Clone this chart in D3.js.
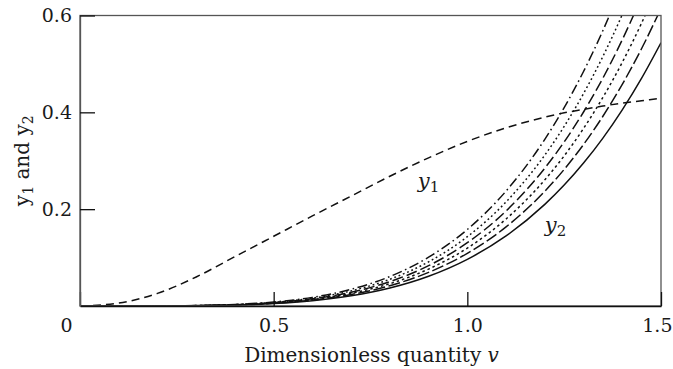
<!DOCTYPE html>
<html><head><meta charset="utf-8">
<script src="https://cdn.jsdelivr.net/npm/d3@7"></script>
<style>body{margin:0;background:#fff}svg{display:block}text{font-family:"DejaVu Serif",serif;fill:#1a1a1a}</style>
</head><body><svg id="c" width="673" height="369"></svg>
<script>
// ---- data ----
const vGrid = [0,0.1,0.2,0.3,0.4,0.5,0.6,0.7,0.8,0.9,1.0,1.1,1.2,1.25,1.3,1.35,1.4,1.45,1.5];
const y1Vals = [0,0.006,0.026,0.060,0.102,0.144,0.186,0.227,0.268,0.306,0.340,0.368,0.390,0.399,0.406,0.413,0.419,0.424,0.429];
const y2a = [0,0,0.0002,0.0009,0.0032,0.0082,0.0178,0.0345,0.0609,0.1008,0.158,0.2374,0.3442,0.4097,0.4844,0.569,0.6648,0.772,0.892];
const y2b = [0,0,0.0001,0.0008,0.0029,0.0074,0.0162,0.0312,0.0552,0.0913,0.1431,0.215,0.3117,0.371,0.4387,0.5154,0.602,0.6994,0.8082];
const y2c = [0,0,0.0001,0.0008,0.0026,0.0068,0.0148,0.0285,0.0504,0.0833,0.1307,0.1963,0.2847,0.3389,0.4007,0.4707,0.5499,0.6388,0.7382];
const y2d = [0,0,0.0001,0.0007,0.0024,0.0062,0.0135,0.0261,0.0461,0.0763,0.1196,0.1797,0.2605,0.3101,0.3667,0.4308,0.5032,0.5846,0.6755];
const y2e = [0,0,0.0001,0.0006,0.0022,0.0056,0.0123,0.0237,0.042,0.0694,0.1088,0.1634,0.237,0.2821,0.3336,0.3919,0.4578,0.5318,0.6145];
const y2f = [0,0,0.0001,0.0006,0.0019,0.005,0.0109,0.021,0.0371,0.0614,0.0963,0.1447,0.2098,0.2497,0.2952,0.3468,0.4052,0.4707,0.5439];
const xTicks = [0,0.5,1.0,1.5];
const xTickLabels = ["0","0.5","1.0","1.5"];
const yTicks = [0.2,0.4,0.6];
const yTickLabels = ["0.2","0.4","0.6"];

// ---- layout ----
const L=80, R=661, T=15.5, B=306;
const x = d3.scaleLinear().domain([0,1.5]).range([L,R]);
const y = d3.scaleLinear().domain([0,0.6]).range([B,T]);
const svg = d3.select("#c");

svg.append("clipPath").attr("id","clip").append("rect")
  .attr("x",L).attr("y",T).attr("width",R-L).attr("height",B-T);

const line = d3.line().x(d=>x(d[0])).y(d=>y(d[1])).curve(d3.curveMonotoneX);
const g = svg.append("g").attr("clip-path","url(#clip)");

const series = [
  {vals:y1Vals, dash:"8,5", w:1.5},
  {vals:y2a, dash:"10,3.5,1.6,3.5", w:1.5},
  {vals:y2b, dash:"1.8,2.8", w:1.5},
  {vals:y2c, dash:"11,4", w:1.5},
  {vals:y2d, dash:"2.5,3", w:1.5},
  {vals:y2e, dash:"12,3.5", w:1.5},
  {vals:y2f, dash:null, w:1.5}
];
series.forEach(s=>{
  g.append("path").datum(vGrid.map((v,i)=>[v,s.vals[i]]))
   .attr("d",line).attr("fill","none").attr("stroke","#111")
   .attr("stroke-width",s.w).attr("stroke-dasharray",s.dash);
});

// frame
svg.append("rect").attr("x",L).attr("y",T).attr("width",R-L).attr("height",B-T)
  .attr("fill","none").attr("stroke","#555").attr("stroke-width",1.3);

// x axis
const xa = d3.axisBottom(x).tickValues(xTicks).tickSizeInner(-14).tickSizeOuter(0)
  .tickPadding(28).tickFormat((d,i)=>xTickLabels[i]);
const gx = svg.append("g").attr("transform",`translate(0,${B})`).call(xa);
gx.select(".domain").attr("stroke","#111").attr("stroke-width",1.3);
gx.selectAll(".tick line").attr("stroke","#111").attr("stroke-width",1.3);
gx.selectAll(".tick text").attr("font-size",19).attr("fill","#1a1a1a")
  .attr("font-family","DejaVu Serif").attr("dy",0).attr("y",26);
gx.selectAll(".tick text").filter(d=>d===0).attr("x",-14);
gx.selectAll(".tick text").filter(d=>d===1.5).attr("text-anchor","end").attr("x",11);

// y axis
const ya = d3.axisLeft(y).tickValues(yTicks).tickSizeInner(-15).tickSizeOuter(0)
  .tickPadding(8).tickFormat((d,i)=>yTickLabels[i]);
const gy = svg.append("g").attr("transform",`translate(${L},0)`).call(ya);
gy.select(".domain").attr("stroke","#555").attr("stroke-width",1.3);
gy.selectAll(".tick line").attr("stroke","#111").attr("stroke-width",1.3);
gy.selectAll(".tick text").attr("font-size",19).attr("fill","#1a1a1a")
  .attr("font-family","DejaVu Serif");

// axis titles
const xt = svg.append("text").attr("x",(L+R)/2+1).attr("y",362).attr("text-anchor","middle").attr("font-size",20);
xt.append("tspan").text("Dimensionless quantity ");
xt.append("tspan").attr("font-style","italic").text("v");

const yt = svg.append("text").attr("transform",`translate(29,${(T+B)/2}) rotate(-90)`)
  .attr("text-anchor","middle").attr("font-size",20);
yt.append("tspan").text("y");
yt.append("tspan").attr("font-size",14).attr("dy",4).text("1");
yt.append("tspan").attr("dy",-4).text(" and y");
yt.append("tspan").attr("font-size",14).attr("dy",4).text("2");

// curve labels
function lab(px,py,sub){
  const t = svg.append("text").attr("x",px).attr("y",py).attr("font-size",21);
  t.append("tspan").attr("font-style","italic").text("y");
  t.append("tspan").attr("font-size",15).attr("dy",4).text(sub);
}
lab(x(0.872),y(0.243),"1");
lab(x(1.2),y(0.153),"2");
</script></body></html>
